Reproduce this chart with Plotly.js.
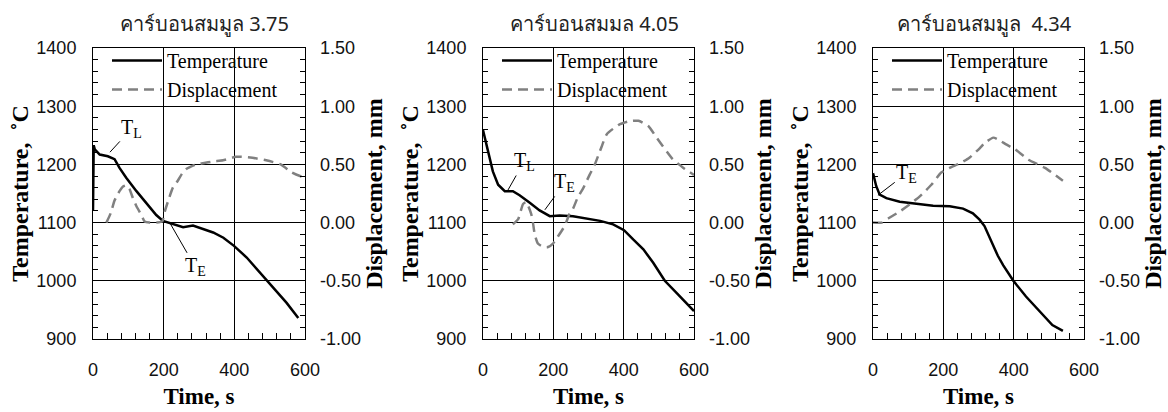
<!DOCTYPE html>
<html><head><meta charset="utf-8">
<script src="https://cdn.plot.ly/plotly-3.0.1.min.js"></script>
<style>html,body{margin:0;padding:0;background:#fff}#chart{width:1168px;height:412px}</style>
</head><body><div id="chart"></div>
<script>
// ---- data ----
const panelTitles = ['คาร์บอนสมมูล 3.75', 'คาร์บอนสมมล 4.05', 'คาร์บอนสมมูล  4.34'];
const seriesNames = ['Temperature', 'Displacement'];
const xTickVals = [0, 200, 400, 600];
const dispTickVals = [-1, -0.5, 0, 0.5, 1, 1.5];
const dispTickText = ['-1.00', '-0.50', '0.00', '0.50', '1.00', '1.50'];

const time1Temp = [0, 2, 5, 19, 42, 61, 75, 94, 123, 151, 179, 198, 222, 255, 283, 312, 340, 369, 399, 435, 472, 510, 548, 581];
const temp1 = [1120, 1233, 1226, 1217, 1214, 1209, 1194, 1177, 1154, 1134, 1113, 1103, 1098, 1092, 1095, 1089, 1083, 1074, 1060, 1040, 1014, 988, 962, 936];
const time1Disp = [38, 50, 61, 75, 85, 94, 103, 113, 123, 137, 146, 160, 180, 196, 203, 212, 226, 240, 252, 264, 292, 311, 340, 368, 405, 445, 490, 531, 563, 586, 600];
const disp1 = [0.00, 0.08, 0.19, 0.27, 0.31, 0.32, 0.29, 0.21, 0.14, 0.065, 0.01, 0.00, 0.00, 0.01, 0.095, 0.18, 0.30, 0.36, 0.42, 0.46, 0.50, 0.51, 0.525, 0.535, 0.565, 0.56, 0.535, 0.50, 0.43, 0.40, 0.39];

const time2Temp = [0, 5, 14, 28, 43, 62, 85, 104, 133, 161, 190, 218, 256, 313, 333, 370, 401, 427, 456, 484, 517, 551, 579, 600];
const temp2 = [1259, 1247, 1224, 1188, 1165, 1154, 1154, 1147, 1134, 1121, 1111, 1112, 1111, 1105, 1103, 1097, 1087, 1071, 1054, 1031, 1000, 979, 962, 948];
const time2Disp = [85, 100, 114, 123, 137, 142, 147, 156, 172, 185, 199, 213, 232, 246, 256, 270, 284, 303, 318, 337, 352, 386, 415, 442, 470, 496, 538, 570, 600];
const disp2 = [-0.015, 0.03, 0.16, 0.175, 0.075, 0.00, -0.10, -0.18, -0.21, -0.21, -0.18, -0.12, -0.03, 0.075, 0.12, 0.22, 0.29, 0.41, 0.50, 0.65, 0.76, 0.84, 0.87, 0.875, 0.83, 0.72, 0.55, 0.47, 0.41];

const time3Temp = [0, 5, 9, 19, 38, 76, 123, 171, 218, 256, 284, 303, 317, 331, 342, 355, 370, 399, 435, 472, 510, 540];
const temp3 = [1185, 1172, 1163, 1148, 1142, 1136, 1132, 1129, 1128, 1124, 1116, 1105, 1094, 1076, 1062, 1043, 1027, 1000, 973, 948, 924, 914];
const time3Disp = [0, 25, 43, 76, 104, 133, 166, 194, 218, 251, 275, 304, 318, 342, 355, 380, 404, 442, 489, 540];
const disp3 = [0.00, 0.00, 0.035, 0.095, 0.155, 0.225, 0.325, 0.43, 0.47, 0.515, 0.56, 0.64, 0.685, 0.73, 0.715, 0.67, 0.63, 0.54, 0.47, 0.36];

// annotation labels: [panel, text, pointX, pointY, textX, textY]
const markerLabels = [
  [0, 'T<sub>L</sub>', 48, 1221, 110, 1262],
  [0, 'T<sub>E</sub>', 218, 1099, 289, 1024],
  [1, 'T<sub>L</sub>', 71, 1156, 117, 1205],
  [1, 'T<sub>E</sub>', 176, 1122, 233, 1169],
  [2, 'T<sub>E</sub>', 14, 1147, 96, 1185]
];

// ---- layout ----
const W = 1168, H = 412;
const xPix = [[93, 305], [483, 694], [873, 1084]];
const yTop = 48, yBot = 339;
const tickFont = {family: 'Liberation Sans, Arial, sans-serif', size: 18, color: '#111'};
const serif = 'Liberation Serif, Times New Roman, serif';
const xTitleFont = {family: serif, size: 23, color: '#000', weight: 'bold'};
const yTitleFont = {family: serif, size: 24, color: '#000', weight: 'bold'};

const tempT = [time1Temp, time2Temp, time3Temp];
const tempV = [temp1, temp2, temp3];
const dispT = [time1Disp, time2Disp, time3Disp];
const dispV = [disp1, disp2, disp3];

const data = [];
const layout = {
  width: W, height: H,
  margin: {l: 0, r: 0, t: 0, b: 0},
  paper_bgcolor: '#fff', plot_bgcolor: '#fff',
  showlegend: true,
  annotations: []
};

for (let i = 0; i < 3; i++) {
  const xs = i === 0 ? '' : String(i + 1);
  const yl = i === 0 ? '' : String(2 * i + 1);
  const yr = String(2 * i + 2);
  const legendName = i === 0 ? 'legend' : 'legend' + (i + 1);
  data.push({
    x: tempT[i], y: tempV[i], name: seriesNames[0], type: 'scatter', mode: 'lines',
    xaxis: 'x' + xs, yaxis: 'y' + yl, legend: legendName,
    line: {color: '#000', width: 2.5}
  });
  data.push({
    x: dispT[i], y: dispV[i], name: seriesNames[1], type: 'scatter', mode: 'lines',
    xaxis: 'x' + xs, yaxis: 'y' + yr, legend: legendName,
    line: {color: '#808080', width: 2.5, dash: '10px,6px', shape: 'spline', smoothing: 0.5}
  });
  layout['xaxis' + xs] = {
    domain: [xPix[i][0] / W, xPix[i][1] / W], anchor: 'y' + yl,
    range: [0, 600], tickvals: xTickVals, ticktext: xTickVals.map(String),
    showgrid: true, gridcolor: '#000', gridwidth: 1, zeroline: false,
    showline: true, mirror: true, linecolor: '#000', linewidth: 1,
    ticks: 'inside', ticklen: 0,
    minor: {dtick: 40, tick0: 0, ticks: 'inside', ticklen: 6, tickcolor: '#000', tickwidth: 1, showgrid: false},
    tickfont: tickFont, ticklabelstandoff: 14,
    title: {text: 'Time, s', font: xTitleFont, standoff: 9},
    automargin: false, fixedrange: true
  };
  layout['yaxis' + yl] = {
    domain: [1 - yBot / H, 1 - yTop / H], anchor: 'x' + xs,
    range: [900, 1400], dtick: 100, tick0: 900,
    showgrid: true, gridcolor: '#000', gridwidth: 1, zeroline: false,
    showline: true, mirror: 'allticks', linecolor: '#000', linewidth: 1,
    ticks: 'inside', ticklen: 5, tickcolor: '#000',
    minor: {dtick: 20, tick0: 900, ticks: 'inside', ticklen: 5, tickcolor: '#000', tickwidth: 1, showgrid: false},
    tickfont: tickFont, ticklabelstandoff: 12,
    title: {text: 'Temperature,  ˚C', font: yTitleFont, standoff: 0},
    automargin: false, fixedrange: true
  };
  layout['yaxis' + yr] = {
    overlaying: 'y' + yl, side: 'right', anchor: 'x' + xs,
    range: [-1, 1.5], tickvals: dispTickVals, ticktext: dispTickText,
    showgrid: false, zeroline: false, showline: false, ticks: '',
    tickfont: tickFont, ticklabelstandoff: 14,
    title: {text: 'Displacement, mm', font: yTitleFont, standoff: 0},
    automargin: false, fixedrange: true
  };
  layout[legendName] = {
    x: (xPix[i][0] + 14) / W, y: 1 - 41 / H, xanchor: 'left', yanchor: 'top',
    bgcolor: 'rgba(0,0,0,0)', borderwidth: 0, itemwidth: 50,
    font: {family: serif, size: 20, color: '#000'}
  };
  layout.annotations.push({
    xref: 'paper', yref: 'paper', x: (xPix[i][0] + xPix[i][1]) / 2 / W + 6 / W, y: 1 - 24 / H,
    xanchor: 'center', yanchor: 'middle', showarrow: false, text: panelTitles[i],
    font: {family: 'Tahoma, Noto Sans, DejaVu Sans, sans-serif', size: 20, color: '#222'}
  });
}

markerLabels.forEach(m => {
  const xs = m[0] === 0 ? '' : String(m[0] + 1);
  const yl = m[0] === 0 ? '' : String(2 * m[0] + 1);
  layout.annotations.push({
    xref: 'x' + xs, yref: 'y' + yl, x: m[2], y: m[3],
    axref: 'x' + xs, ayref: 'y' + yl, ax: m[4], ay: m[5],
    text: m[1], showarrow: true, arrowhead: 0, arrowwidth: 1, arrowcolor: '#000', standoff: 0,
    font: {family: serif, size: 20, color: '#000'}
  });
});

Plotly.newPlot('chart', data, layout, {staticPlot: true, displayModeBar: false});
</script></body></html>
